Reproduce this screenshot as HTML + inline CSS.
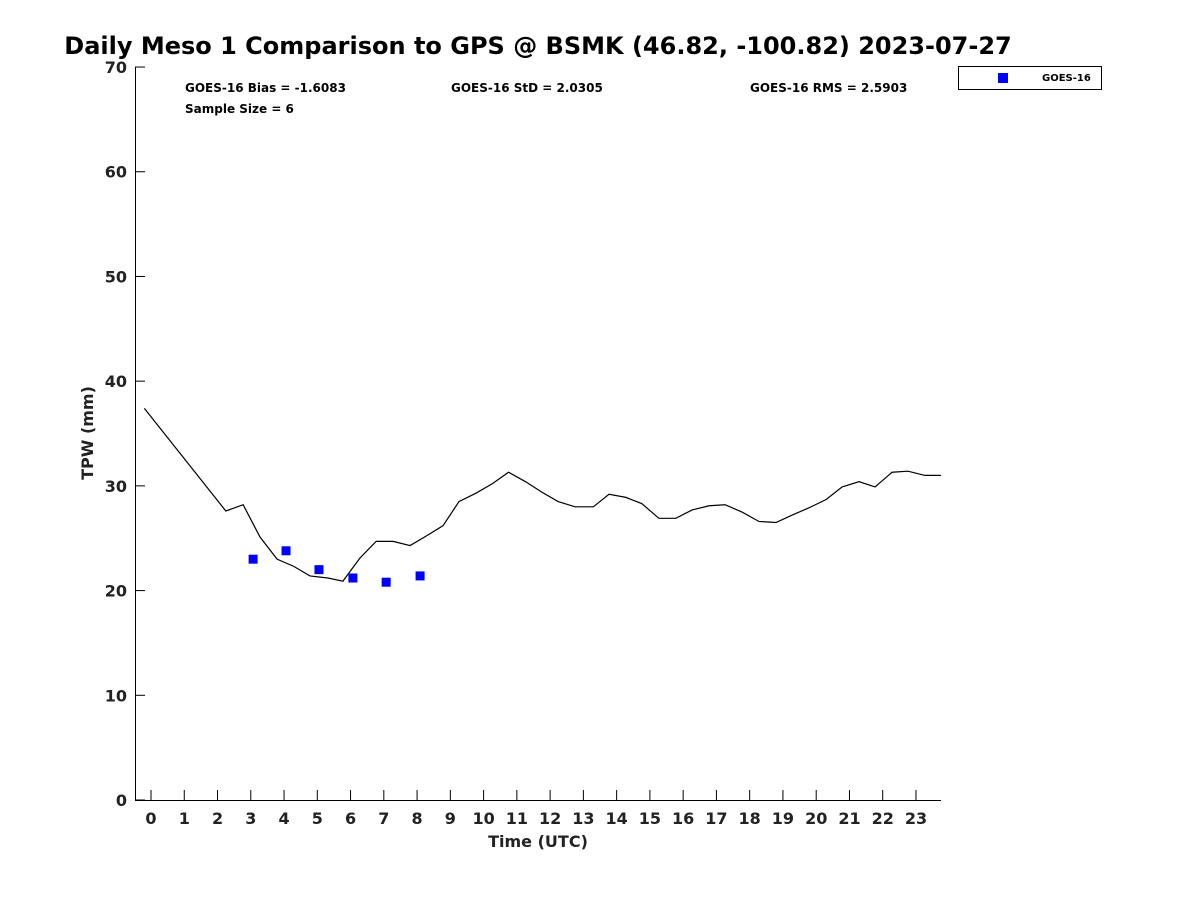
<!DOCTYPE html>
<html><head><meta charset="utf-8"><style>
body{margin:0;background:#fff}
svg{display:block;font-family:"DejaVu Sans","Liberation Sans",sans-serif;font-weight:bold}
</style></head><body>
<svg id="chart" width="1200" height="900" viewBox="0 0 1200 900">
<text x="538" y="54" font-size="24" text-anchor="middle" fill="#000">Daily Meso 1 Comparison to GPS @ BSMK (46.82, -100.82) 2023-07-27</text>
<g id="axes"></g>
<g id="marks"></g>
<text x="185" y="92" font-size="12" fill="#000">GOES-16 Bias = -1.6083</text>
<text x="185" y="113" font-size="12" fill="#000">Sample Size = 6</text>
<text x="451" y="92" font-size="12" fill="#000">GOES-16 StD = 2.0305</text>
<text x="750" y="92" font-size="12" fill="#000">GOES-16 RMS = 2.5903</text>
<g>
<rect x="958.5" y="66.5" width="143" height="23" fill="#fff" stroke="#000" stroke-width="1"/>
<rect x="998" y="73" width="10" height="10" fill="#0000ff"/>
<text x="1042" y="81" font-size="10" fill="#000">GOES-16</text>
</g>
<text x="538" y="847" font-size="16" text-anchor="middle" fill="#222">Time (UTC)</text>
<text x="0" y="0" font-size="16" text-anchor="middle" fill="#222" transform="translate(93,433) rotate(-90)">TPW (mm)</text>
</svg>
<script>
const gpsTimes=[-0.2,2.25,2.77,3.28,3.79,4.3,4.78,5.32,5.77,6.28,6.77,7.28,7.79,8.27,8.78,9.26,9.77,10.26,10.75,11.26,11.75,12.24,12.75,13.3,13.77,14.28,14.76,15.27,15.78,16.27,16.78,17.26,17.77,18.28,18.79,19.27,19.78,20.3,20.78,21.29,21.77,22.28,22.76,23.27,23.75];
const gpsValues=[37.4,27.6,28.2,25.1,23.0,22.3,21.4,21.2,20.9,23.1,24.7,24.7,24.3,25.2,26.2,28.5,29.3,30.2,31.3,30.4,29.4,28.5,28.0,28.0,29.2,28.9,28.3,26.9,26.9,27.7,28.1,28.2,27.5,26.6,26.5,27.2,27.9,28.7,29.9,30.4,29.9,31.3,31.4,31.0,31.0];
const goesTimes=[3.07,4.06,5.05,6.07,7.07,8.09];
const goesValues=[23.0,23.8,22.0,21.2,20.8,21.4];
const xTicks=[0,1,2,3,4,5,6,7,8,9,10,11,12,13,14,15,16,17,18,19,20,21,22,23];
const yTicks=[0,10,20,30,40,50,60,70];
const NS="http://www.w3.org/2000/svg";
const X=h=>151+h*33.26, Y=v=>800-v*10.471;
function mk(t,a,p){const e=document.createElementNS(NS,t);for(const k in a)e.setAttribute(k,a[k]);p.appendChild(e);return e;}
const ax=document.getElementById('axes'), mg=document.getElementById('marks');
let l=mk('line',{x1:135.5,y1:67,x2:135.5,y2:800.5,stroke:'#000','stroke-width':1},ax);


l=mk('line',{x1:135,y1:800.5,x2:941,y2:800.5,stroke:'#000','stroke-width':1},ax);


xTicks.forEach(h=>{
 const t=mk('line',{x1:X(h),y1:790,x2:X(h),y2:800,stroke:'#000'},ax);
 
 
 const s=mk('text',{x:X(h),y:824,'font-size':16,'text-anchor':'middle',fill:'#222'},ax);s.textContent=h;
 
 
});
yTicks.forEach(v=>{
 const t=mk('line',{x1:135,y1:Y(v),x2:145,y2:Y(v),stroke:'#000'},ax);
 
 
 const s=mk('text',{x:127,y:Y(v)+6,'font-size':16,'text-anchor':'end',fill:'#222'},ax);s.textContent=v;
 
 
});
const pl=mk('polyline',{points:gpsTimes.map((t,i)=>X(t)+','+Y(gpsValues[i])).join(' '),fill:'none',stroke:'#000','stroke-width':1.2},mg);


goesTimes.forEach((t,i)=>{
 const r=mk('rect',{x:X(t)-4.5,y:Y(goesValues[i])-4.5,width:9,height:9,fill:'#0000ff'},mg);
 
 
});
</script>
</body></html>
